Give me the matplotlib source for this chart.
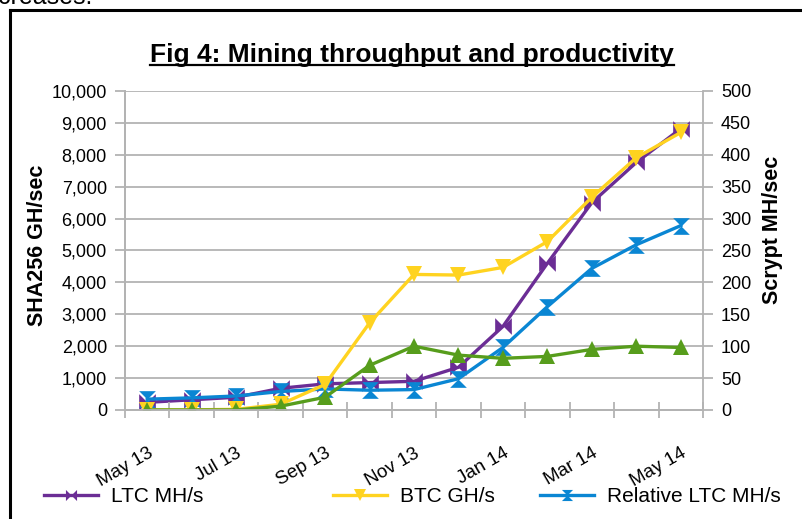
import matplotlib
matplotlib.use("Agg")
import matplotlib.pyplot as plt
import numpy as np
from matplotlib.path import Path
from matplotlib.lines import Line2D
from matplotlib.ticker import FuncFormatter

plt.rcParams["font.family"] = ["Liberation Sans", "DejaVu Sans"]

months = ["May 13", "Jun 13", "Jul 13", "Aug 13", "Sep 13", "Oct 13", "Nov 13",
          "Dec 13", "Jan 14", "Feb 14", "Mar 14", "Apr 14", "May 14"]
ltc_mhs = [12, 16, 20, 34, 41, 43, 45, 67, 131, 230, 325, 388, 441]
btc_ghs = [5, 5, 20, 180, 800, 2730, 4250, 4230, 4470, 5280, 6670, 7910, 8700]
rel_ltc_mhs = [17, 19, 22, 29, 33, 31, 32, 49, 98, 162, 222, 259, 289]
green_series = [0, 0, 0, 120, 400, 1400, 2000, 1720, 1620, 1680, 1900, 2000, 1960]

PURPLE = "#6B2D95"
YELLOW = "#FFD320"
BLUE = "#0A86D3"
GREEN = "#579D1C"
GRAY = "#b3b3b3"

# Excel-style markers: horizontal bowtie and vertical hourglass
bowtie = Path([(-1, -1), (-1, 1), (0, 0), (1, 1), (1, -1), (0, 0), (-1, -1)])
hourglass = Path([(-1, 1), (1, 1), (0, 0), (1, -1), (-1, -1), (0, 0), (-1, 1)])

fig = plt.figure(figsize=(8.03, 5.19), dpi=100)
ax = fig.add_axes([125 / 803, 1 - 410 / 519, 578 / 803, 319 / 519])
ax2 = ax.twinx()
ax.set_zorder(ax2.get_zorder() + 1)
ax.patch.set_visible(False)

x = np.arange(len(months))
lw = 2.4
ms = 12

ax2.plot(x, ltc_mhs, color=PURPLE, lw=lw, marker=bowtie, ms=ms, mew=0)
ax.plot(x, btc_ghs, color=YELLOW, lw=lw, marker="v", ms=ms, mew=0)
ax2.plot(x, rel_ltc_mhs, color=BLUE, lw=lw, marker=hourglass, ms=ms, mew=0)
ax.plot(x, green_series, color=GREEN, lw=lw, marker="^", ms=ms, mew=0)

ax.set_xlim(-0.5, len(months) - 0.5)
ax.set_ylim(0, 10000)
ax2.set_ylim(0, 500)
ax.set_yticks(np.arange(0, 10001, 1000))
ax2.set_yticks(np.arange(0, 501, 50))
ax.yaxis.set_major_formatter(FuncFormatter(lambda v, p: f"{int(v):,}"))
ax2.grid(axis="y", color=GRAY, lw=1.3)
ax2.set_axisbelow(True)

ax.set_xticks(x[::2])
ax.set_xticklabels(months[::2], rotation=30, ha="right", va="top",
                   rotation_mode="anchor", fontsize=13.5)
ax.set_xticks(np.arange(-0.5, len(months), 1), minor=True)
ax.tick_params(axis="x", which="major", length=0, pad=25)
ax.tick_params(axis="x", which="minor", direction="inout", length=12,
               color=GRAY, width=1.3)

ax.tick_params(axis="y", direction="out", length=7, color=GRAY, width=1.3,
               labelsize=13, pad=6)
ax2.tick_params(axis="y", direction="out", length=7, color=GRAY, width=1.3,
                labelsize=13, pad=6)

for a in (ax, ax2):
    a.spines["top"].set_visible(False)
    for s in ("left", "right", "bottom"):
        a.spines[s].set_color(GRAY)
        a.spines[s].set_linewidth(1.3)
ax.spines["right"].set_visible(False)

fig.text(38 / 803, 1 - 245 / 519, "SHA256 GH/sec", rotation=90, ha="center",
         va="center", fontsize=15.5, fontweight="bold")
fig.text(773 / 803, 1 - 230 / 519, "Scrypt MH/sec", rotation=90, ha="center",
         va="center", fontsize=15.5, fontweight="bold")

title = fig.text(412 / 803, 1 - 62 / 519, "Fig 4: Mining throughput and productivity",
                 ha="center", va="baseline", fontsize=19, fontweight="bold")

# legend entries laid out individually like the original
entries = [("LTC MH/s", PURPLE, bowtie, 44),
           ("BTC GH/s", YELLOW, "v", 333),
           ("Relative LTC MH/s", BLUE, hourglass, 540)]
for label, color, mk, xpos in entries:
    h = Line2D([], [], color=color, lw=lw, marker=mk, ms=8, mew=0)
    fig.legend(handles=[h], labels=[label], loc="center left",
               bbox_to_anchor=(xpos / 803, 1 - 497 / 519), frameon=False,
               fontsize=15, handlelength=2.6, handletextpad=0.6,
               borderpad=0, borderaxespad=0)

# document frame and clipped text above the chart
fig.add_artist(Line2D([10 / 803, 10 / 803], [0, 1 - 10 / 519], color="black",
                      lw=2.2, transform=fig.transFigure))
fig.add_artist(Line2D([10 / 803, 1], [1 - 10 / 519, 1 - 10 / 519], color="black",
                      lw=2.2, transform=fig.transFigure))
fig.text(-2 / 803, 1 - 4 / 519, "creases.", ha="left", va="baseline", fontsize=18)

fig.canvas.draw()
bb = title.get_window_extent()
base = 519 - 62
fig.add_artist(Line2D([bb.x0 / 803, bb.x1 / 803], [(base - 3) / 519, (base - 3) / 519],
                      color="black", lw=1.6, transform=fig.transFigure))

fig.savefig("out.png", dpi=100)
